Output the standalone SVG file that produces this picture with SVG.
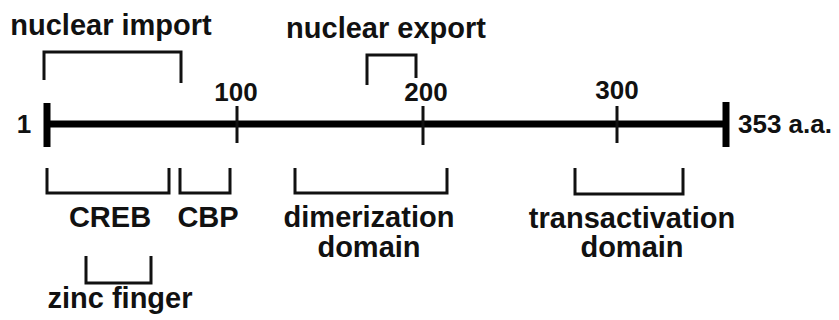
<svg xmlns="http://www.w3.org/2000/svg" width="839" height="320" viewBox="0 0 839 320">
<style>
.t{font-family:"Liberation Sans",Arial,sans-serif;font-weight:bold;fill:#111;text-anchor:middle}
.lbl{font-size:29px}
.num{font-size:26px}
.br{fill:none;stroke:#111;stroke-width:3;stroke-linejoin:miter;stroke-linecap:butt}
.axis{stroke:#000;stroke-width:7}
.tick{stroke:#111;stroke-width:3}
</style>
<rect width="839" height="320" fill="#fff"/>
<g id="connectors">
<line class="axis" x1="47" y1="124" x2="726" y2="124"/>
<line x1="47" y1="103" x2="47" y2="147" stroke="#000" stroke-width="7"/>
<line x1="726" y1="102" x2="726" y2="147" stroke="#000" stroke-width="7"/>
<line class="tick" x1="237" y1="106" x2="237" y2="143"/>
<line class="tick" x1="423" y1="106" x2="423" y2="145"/>
<line class="tick" x1="617" y1="106" x2="617" y2="143"/>
</g>
<g id="scale-labels">
<text class="t num" x="24" y="133">1</text>
<text class="t num" x="236" y="101">100</text>
<text class="t num" x="426" y="101">200</text>
<text class="t num" x="617" y="99">300</text>
<text class="t num" x="738" y="133" style="text-anchor:start">353 a.a.</text>
</g>
<g id="nuclear-import">
<path class="br" d="M44,80 V52 H181 V83"/>
<text class="t lbl" x="111" y="35">nuclear import</text>
</g>
<g id="nuclear-export">
<path class="br" d="M367,85 V55 H416 V78"/>
<text class="t lbl" x="386" y="38">nuclear export</text>
</g>
<g id="creb">
<path class="br" d="M47,168 V193 H169 V168"/>
<text class="t lbl" x="110" y="227">CREB</text>
</g>
<g id="cbp">
<path class="br" d="M180,168 V193 H230 V168"/>
<text class="t lbl" x="208" y="227">CBP</text>
</g>
<g id="dimerization">
<path class="br" d="M295,168 V193 H447 V168"/>
<text class="t lbl" x="369" y="227">dimerization</text>
<text class="t lbl" x="369" y="257">domain</text>
</g>
<g id="transactivation">
<path class="br" d="M575,168 V194 H683 V168"/>
<text class="t lbl" x="632" y="228">transactivation</text>
<text class="t lbl" x="632" y="257">domain</text>
</g>
<g id="zinc-finger">
<path class="br" d="M86,256 V283 H151 V256"/>
<text class="t lbl" x="120" y="308">zinc finger</text>
</g>
</svg>
